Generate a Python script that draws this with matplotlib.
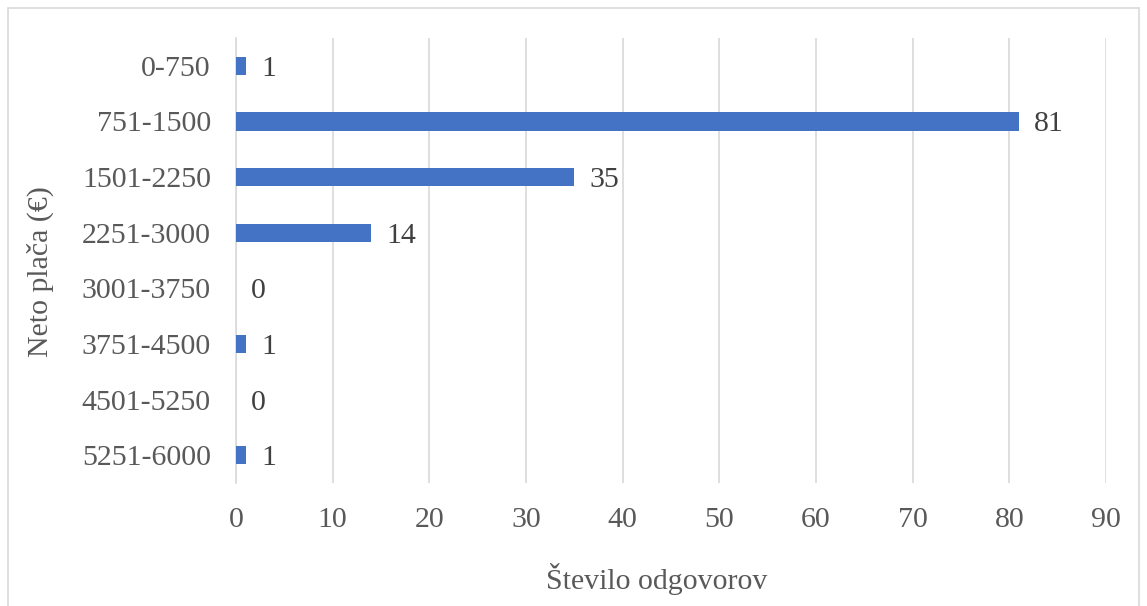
import matplotlib.pyplot as plt
from matplotlib.patches import Rectangle

# ------ podatki ------
razredi = ['0-750', '751-1500', '1501-2250', '2251-3000',
           '3001-3750', '3751-4500', '4501-5250', '5251-6000']
odgovori = [1, 81, 35, 14, 0, 1, 0, 1]
x_ticks = [0, 10, 20, 30, 40, 50, 60, 70, 80, 90]

plt.rcParams['font.family'] = ['Liberation Serif', 'DejaVu Serif']
fs = 21.5

fig = plt.figure(figsize=(11.47, 6.06), dpi=100)
fig.patches.append(Rectangle((8 / 1147, -0.01), 1131 / 1147, 1 - 8 / 606 + 0.01,
                             transform=fig.transFigure, fill=False,
                             edgecolor='#D9D9D9', linewidth=1.2))

ax = fig.add_axes([236 / 1147, 1 - 483 / 606, 870 / 1147, 445 / 606])

y = list(range(len(razredi)))
ax.barh(y, odgovori, height=0.33, color='#4472C4', zorder=3)
for yi, v in zip(y, odgovori):
    ax.annotate(str(v), (v, yi), xytext=(11, 0), textcoords='offset points',
                va='center_baseline', ha='left', fontsize=fs, color='#404040')

ax.set_ylim(len(razredi) - 0.5, -0.5)
ax.set_xlim(0, 90)
ax.set_xticks(x_ticks)
ax.set_yticks(y)
ax.set_yticklabels(razredi)
ax.tick_params(axis='both', length=0, labelsize=fs, labelcolor='#595959')
ax.tick_params(axis='x', pad=17)
ax.tick_params(axis='y', pad=18)

ax.grid(axis='x', color='#D9D9D9', linewidth=1.2, zorder=0)
ax.grid(axis='y', visible=False)
for s in ['top', 'right', 'bottom']:
    ax.spines[s].set_visible(False)
ax.spines['left'].set_color('#D9D9D9')
ax.spines['left'].set_linewidth(1.2)

ax.set_xlabel('Število odgovorov', fontsize=fs, color='#595959')
ax.xaxis.set_label_coords(0.484, -0.18)
ax.set_ylabel('Neto plača (€)', fontsize=fs, color='#595959')
ax.yaxis.set_label_coords(-0.209, 0.475)

fig.savefig('out.png', dpi=100)
